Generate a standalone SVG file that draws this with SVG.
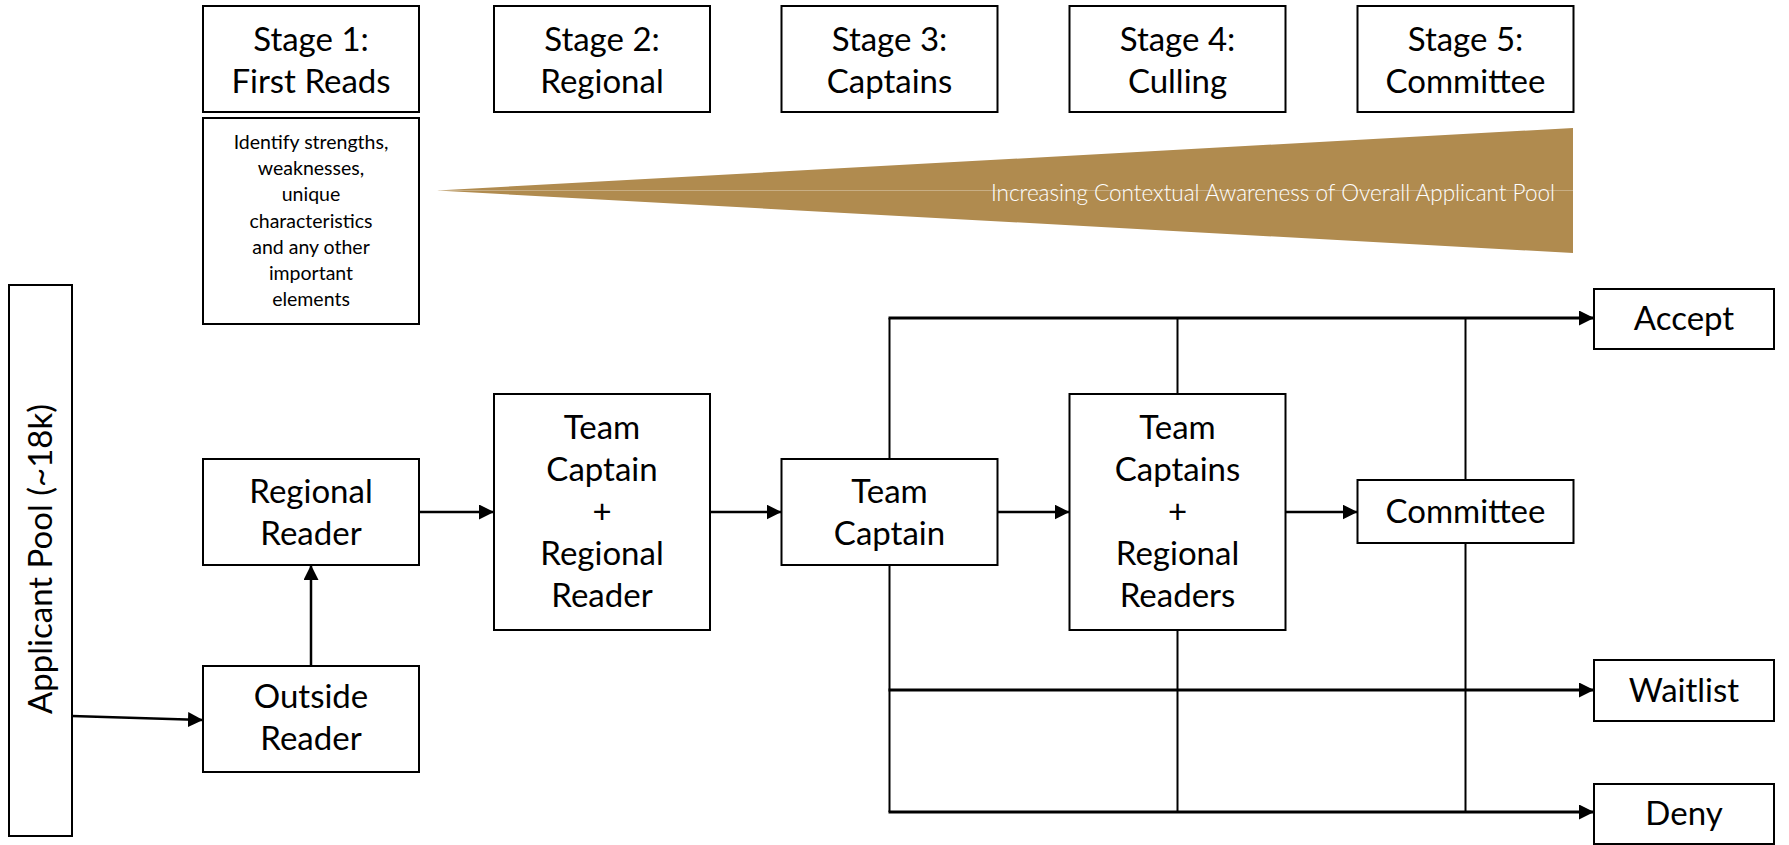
<svg xmlns="http://www.w3.org/2000/svg" width="1789" height="845" viewBox="0 0 1789 845">
<style>
.box{fill:#fff;stroke:#000;stroke-width:2}
.t{font-family:Lato,"Open Sans","Liberation Sans",sans-serif;font-size:33px;fill:#000;text-anchor:middle}
.d{font-family:Lato,"Open Sans","Liberation Sans",sans-serif;font-size:19.5px;fill:#000;text-anchor:middle}
.c{fill:none;stroke:#000;stroke-width:2.5}
.bus{fill:none;stroke:#000;stroke-width:3}
.v{fill:none;stroke:#000;stroke-width:2}
</style>
<defs>
<marker id="ah" viewBox="0 0 10 10" refX="10" refY="5" markerWidth="6" markerHeight="6" orient="auto" markerUnits="strokeWidth">
<path d="M0,0 L10,5 L0,10 z" fill="#000"/>
</marker>
<marker id="ah3" viewBox="0 0 10 10" refX="10" refY="5" markerWidth="5" markerHeight="5" orient="auto" markerUnits="strokeWidth">
<path d="M0,0 L10,5 L0,10 z" fill="#000"/>
</marker>
</defs>
<rect width="1789" height="845" fill="#fff"/>

<g id="stage1"><rect class="box" x="203" y="6" width="216" height="106"/><text class="t" x="311" y="51">Stage 1:</text><text class="t" x="311" y="93">First Reads</text></g>
<g id="stage2"><rect class="box" x="494" y="6" width="216" height="106"/><text class="t" x="602" y="51">Stage 2:</text><text class="t" x="602" y="93">Regional</text></g>
<g id="stage3"><rect class="box" x="781.5" y="6" width="216" height="106"/><text class="t" x="889.5" y="51">Stage 3:</text><text class="t" x="889.5" y="93">Captains</text></g>
<g id="stage4"><rect class="box" x="1069.5" y="6" width="216" height="106"/><text class="t" x="1177.5" y="51">Stage 4:</text><text class="t" x="1177.5" y="93">Culling</text></g>
<g id="stage5"><rect class="box" x="1357.5" y="6" width="216" height="106"/><text class="t" x="1465.5" y="51">Stage 5:</text><text class="t" x="1465.5" y="93">Committee</text></g>

<g id="description"><rect class="box" x="203" y="118" width="216" height="206"/>
<text class="d" x="311" y="149">Identify strengths,</text>
<text class="d" x="311" y="175">weaknesses,</text>
<text class="d" x="311" y="201">unique</text>
<text class="d" x="311" y="228">characteristics</text>
<text class="d" x="311" y="254">and any other</text>
<text class="d" x="311" y="280">important</text>
<text class="d" x="311" y="306">elements</text>
</g>

<g id="awareness">
<polygon points="437,190.5 1573,128 1573,253" fill="#B08B4F"/>
<line x1="440" y1="190.5" x2="1573" y2="190.5" stroke="#fff" stroke-opacity="0.3" stroke-width="1"/>
<text x="1555" y="201" font-family="Lato,'Open Sans','Liberation Sans',sans-serif" font-weight="300" font-size="22.5" fill="#fff" text-anchor="end">Increasing Contextual Awareness of Overall Applicant Pool</text>
</g>

<g id="applicant-pool"><rect class="box" x="9" y="285" width="63" height="551"/><text class="t" transform="translate(52,559) rotate(-90)" x="0" y="0" font-size="34">Applicant Pool (~18k)</text></g>
<g id="regional-reader"><rect class="box" x="203" y="459" width="216" height="106"/><text class="t" x="311" y="503">Regional</text><text class="t" x="311" y="545">Reader</text></g>
<g id="outside-reader"><rect class="box" x="203" y="666" width="216" height="106"/><text class="t" x="311" y="708">Outside</text><text class="t" x="311" y="750">Reader</text></g>
<g id="tc-rr"><rect class="box" x="494" y="394" width="216" height="236"/>
<text class="t" x="602" y="439">Team</text><text class="t" x="602" y="481">Captain</text><text class="t" x="602" y="523">+</text><text class="t" x="602" y="565">Regional</text><text class="t" x="602" y="607">Reader</text></g>
<g id="team-captain"><rect class="box" x="781.5" y="459" width="216" height="106"/><text class="t" x="889.5" y="503">Team</text><text class="t" x="889.5" y="545">Captain</text></g>
<g id="tcs-rrs"><rect class="box" x="1069.5" y="394" width="216" height="236"/>
<text class="t" x="1177.5" y="439">Team</text><text class="t" x="1177.5" y="481">Captains</text><text class="t" x="1177.5" y="523">+</text><text class="t" x="1177.5" y="565">Regional</text><text class="t" x="1177.5" y="607">Readers</text></g>
<g id="committee"><rect class="box" x="1357.5" y="480" width="216" height="63"/><text class="t" x="1465.5" y="523">Committee</text></g>
<g id="accept"><rect class="box" x="1594" y="289" width="180" height="60"/><text class="t" x="1684" y="330">Accept</text></g>
<g id="waitlist"><rect class="box" x="1594" y="660" width="180" height="61"/><text class="t" x="1684" y="702">Waitlist</text></g>
<g id="deny"><rect class="box" x="1594" y="784" width="180" height="60"/><text class="t" x="1684" y="825">Deny</text></g>

<g id="connectors">
<line class="c" x1="72" y1="716" x2="203" y2="720" marker-end="url(#ah)"/>
<line class="c" x1="311" y1="666" x2="311" y2="565" marker-end="url(#ah)"/>
<line class="c" x1="419" y1="512" x2="494" y2="512" marker-end="url(#ah)"/>
<line class="c" x1="710" y1="512" x2="781.5" y2="512" marker-end="url(#ah)"/>
<line class="c" x1="997.5" y1="512" x2="1069.5" y2="512" marker-end="url(#ah)"/>
<line class="c" x1="1285.5" y1="512" x2="1357.5" y2="512" marker-end="url(#ah)"/>
<line class="v" x1="889.5" y1="459" x2="889.5" y2="318"/>
<line class="v" x1="1177.5" y1="394" x2="1177.5" y2="318"/>
<line class="v" x1="1465.5" y1="480" x2="1465.5" y2="318"/>
<line class="v" x1="889.5" y1="565" x2="889.5" y2="812"/>
<line class="v" x1="1177.5" y1="630" x2="1177.5" y2="812"/>
<line class="v" x1="1465.5" y1="543" x2="1465.5" y2="812"/>
<line class="bus" x1="888.5" y1="318" x2="1594" y2="318" marker-end="url(#ah3)"/>
<line class="bus" x1="888.5" y1="690" x2="1594" y2="690" marker-end="url(#ah3)"/>
<line class="bus" x1="888.5" y1="812" x2="1594" y2="812" marker-end="url(#ah3)"/>
</g>
</svg>
